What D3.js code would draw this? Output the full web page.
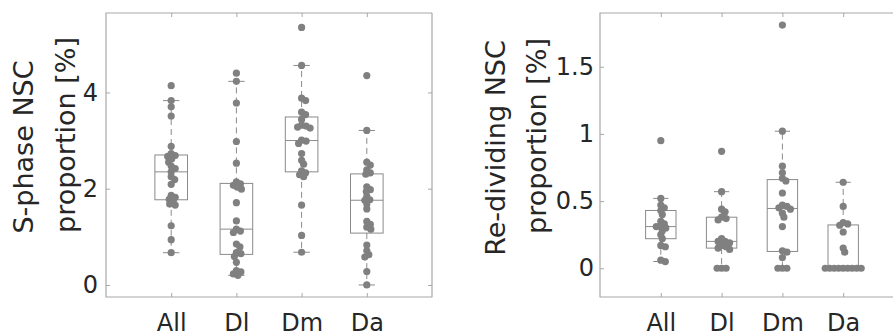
<!DOCTYPE html>
<html>
<head>
<meta charset="utf-8">
<script src="https://cdn.jsdelivr.net/npm/d3@7"></script>
<style>
  body { margin: 0; background: #fff; }
  svg { display: block; font-family: "DejaVu Sans", sans-serif; }
</style>
</head>
<body>
<div id="chart"></div>
<script>
// categories shared by both panels
const categories = ["All", "Dl", "Dm", "Da"];

// S-phase NSC proportion [%]
const sAll = [4.14, 3.83, 3.70, 3.51, 2.88, 2.73, 2.69, 2.67, 2.62, 2.55, 2.47, 2.42, 2.35, 2.25, 2.19, 2.09, 1.86, 1.82, 1.78, 1.74, 1.68, 1.66, 1.23, 0.94, 0.67];
const sDl = [4.40, 4.23, 3.78, 2.98, 2.53, 2.14, 2.10, 2.07, 2.03, 1.99, 1.71, 1.33, 1.16, 1.12, 1.09, 0.85, 0.79, 0.67, 0.65, 0.59, 0.47, 0.30, 0.27, 0.23, 0.20];
const sDm = [5.35, 4.56, 3.88, 3.83, 3.59, 3.54, 3.44, 3.32, 3.30, 3.28, 3.26, 3.01, 2.99, 2.94, 2.73, 2.59, 2.51, 2.37, 2.33, 2.29, 2.25, 1.66, 1.03, 0.68];
const sDa = [4.35, 3.21, 2.55, 2.49, 2.39, 2.33, 2.30, 2.04, 1.98, 1.94, 1.84, 1.77, 1.76, 1.68, 1.58, 1.32, 1.26, 1.20, 1.16, 0.83, 0.71, 0.63, 0.58, 0.28, 0.0];
const sTicks = [0, 2, 4];

// Re-dividing NSC proportion [%]
const rAll = [0.95, 0.52, 0.47, 0.45, 0.43, 0.40, 0.35, 0.33, 0.31, 0.31, 0.30, 0.28, 0.25, 0.22, 0.17, 0.16, 0.06, 0.05];
const rDl = [0.87, 0.57, 0.44, 0.42, 0.38, 0.37, 0.36, 0.22, 0.20, 0.20, 0.19, 0.17, 0.16, 0.14, 0.15, 0, 0, 0];
const rDm = [1.81, 1.02, 0.76, 0.71, 0.67, 0.65, 0.56, 0.47, 0.46, 0.45, 0.44, 0.41, 0.38, 0.31, 0.13, 0.12, 0.08, 0, 0, 0];
const rDa = [0.64, 0.46, 0.34, 0.33, 0.32, 0.27, 0.15, 0.12, 0, 0, 0, 0, 0, 0, 0, 0, 0];
const rTicks = [0, 0.5, 1, 1.5];

const W = 893, H = 336;
const yTop = 13, yBottom = 297;
const dotColor = "#808080", boxColor = "#8a8a8a", axisColor = "#a8a8a8", textColor = "#262626";

const svg = d3.select("#chart").append("svg").attr("width", W).attr("height", H);

// percentile like matlab's prctile
function prc(s, p) {
  const n = s.length;
  const pos = n * p + 0.5;
  if (pos <= 1) return s[0];
  if (pos >= n) return s[n - 1];
  const lo = Math.floor(pos), f = pos - lo;
  return s[lo - 1] + f * (s[lo] - s[lo - 1]);
}

// simple beeswarm offsets, in pixels
function swarm(ys, minDist) {
  const order = ys.map((y, i) => i).sort((a, b) => ys[a] - ys[b]);
  const placed = [];
  const off = new Array(ys.length).fill(0);
  order.forEach((i) => {
    const y = ys[i];
    for (let k = 0; k < 200; k++) {
      const step = Math.ceil(k / 2) * 0.5 * (k % 2 ? 1 : -1);
      const ok = placed.every((p) => Math.hypot(p.x - step, p.y - y) >= minDist);
      if (ok) { off[i] = step; placed.push({ x: step, y: y }); break; }
    }
  });
  return off;
}

function drawPanel(cfg) {
  const x = d3.scaleLinear().domain([0, 5]).range([cfg.x0, cfg.x1]);
  const y = d3.scaleLinear().domain(cfg.ydomain).range([yBottom, yTop]);
  const g = svg.append("g");
  const bw = x(0.25) - x(0);   // half box width
  const cw = x(0.125) - x(0);  // half cap width

  // frame
  g.append("path")
    .attr("d", `M${cfg.x1},${yTop}H${cfg.x0}V${yBottom}H${cfg.x1}` + (cfg.rightEdge ? `V${yTop}` : ""))
    .attr("fill", "none").attr("stroke", axisColor).attr("stroke-width", 1.2);

  // axes
  const left = g.append("g").attr("transform", `translate(${cfg.x0},0)`)
    .call(d3.axisLeft(y).tickValues(cfg.ticks).tickFormat(d3.format("")).tickSize(-4).tickPadding(cfg.pad));
  const bot = g.append("g").attr("transform", `translate(0,${yBottom})`)
    .call(d3.axisBottom(x).tickValues([1, 2, 3, 4]).tickFormat((d) => categories[d - 1]).tickSize(-4).tickPadding(17));
  const tp = g.append("g").attr("transform", `translate(0,${yTop})`)
    .call(d3.axisTop(x).tickValues([1, 2, 3, 4]).tickFormat("").tickSize(-4));
  const axes = [left, bot, tp];
  if (cfg.rightEdge) {
    axes.push(g.append("g").attr("transform", `translate(${cfg.x1},0)`)
      .call(d3.axisRight(y).tickValues(cfg.ticks).tickFormat("").tickSize(-4)));
  }
  axes.forEach((a) => {
    a.select(".domain").remove();
    a.selectAll(".tick line").attr("stroke", axisColor);
    a.selectAll("text").attr("fill", textColor).style("font-size", "24px").style("font-family", "DejaVu Sans");
  });

  // y label, two lines
  cfg.label.forEach((l) => {
    g.append("text")
      .attr("transform", `translate(${l.x},${l.y}) rotate(-90)`)
      .attr("text-anchor", "middle")
      .attr("fill", textColor)
      .style("font-size", "27px")
      .text(l.t);
  });

  // boxes
  cfg.groups.forEach((vals, i) => {
    const cx = x(i + 1);
    const s = vals.slice().sort((a, b) => a - b);
    const q1 = prc(s, 0.25), med = prc(s, 0.5), q3 = prc(s, 0.75);
    const iqr = q3 - q1;
    const hi = d3.max(s.filter((v) => v <= q3 + 1.5 * iqr));
    const lo = d3.min(s.filter((v) => v >= q1 - 1.5 * iqr));
    const bx = g.append("g").attr("stroke", boxColor).attr("fill", "none").attr("stroke-width", 1);
    bx.append("line").attr("x1", cx).attr("x2", cx).attr("y1", y(q3)).attr("y2", y(hi)).attr("stroke-dasharray", "6,4");
    bx.append("line").attr("x1", cx).attr("x2", cx).attr("y1", y(q1)).attr("y2", y(lo)).attr("stroke-dasharray", "6,4");
    bx.append("line").attr("x1", cx - cw).attr("x2", cx + cw).attr("y1", y(hi)).attr("y2", y(hi));
    bx.append("line").attr("x1", cx - cw).attr("x2", cx + cw).attr("y1", y(lo)).attr("y2", y(lo));
    bx.append("rect").attr("x", cx - bw).attr("width", 2 * bw).attr("y", y(q3)).attr("height", y(q1) - y(q3));
    bx.append("line").attr("x1", cx - bw).attr("x2", cx + bw).attr("y1", y(med)).attr("y2", y(med));

    // dots
    const ys = vals.map((v) => y(v));
    const off = swarm(ys, 4.3);
    g.append("g").selectAll("circle").data(vals).join("circle")
      .attr("cx", (d, j) => cx + off[j])
      .attr("cy", (d) => y(d))
      .attr("r", 3.6)
      .attr("fill", dotColor);
  });
}

drawPanel({
  x0: 106, x1: 432, ydomain: [-0.25, 5.65], ticks: sTicks, pad: 8, rightEdge: true,
  groups: [sAll, sDl, sDm, sDa],
  label: [{ t: "S-phase NSC", x: 33, y: 147 }, { t: "proportion [%]", x: 75, y: 135 }]
});

drawPanel({
  x0: 600, x1: 904, ydomain: [-0.214, 1.90], ticks: rTicks, pad: 6, rightEdge: false,
  groups: [rAll, rDl, rDm, rDa],
  label: [{ t: "Re-dividing NSC", x: 505, y: 148 }, { t: "proportion [%]", x: 546, y: 136 }]
});
</script>
</body>
</html>
